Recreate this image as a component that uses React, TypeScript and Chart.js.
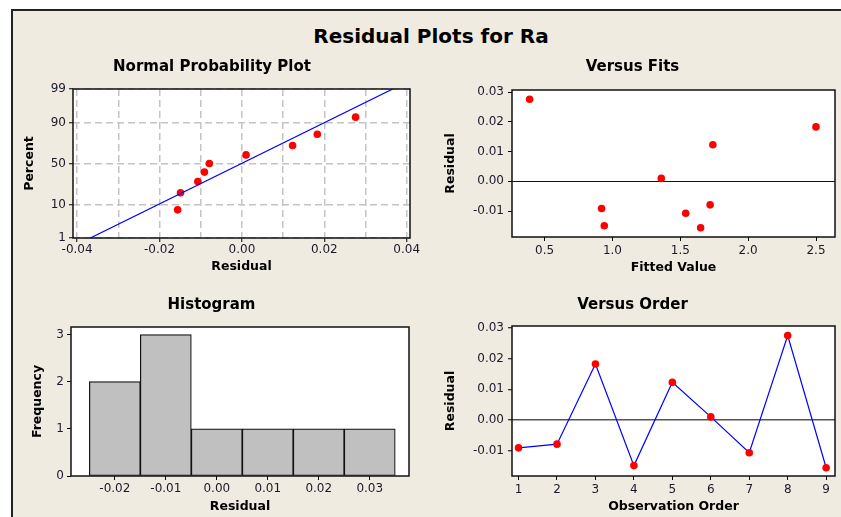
import React, { useEffect, useRef } from 'react';
import { Chart, registerables } from 'chart.js';

Chart.register(...registerables);

// ---------------- data ----------------
const observationOrder = [1, 2, 3, 4, 5, 6, 7, 8, 9];
const residuals = [-0.0091, -0.0079, 0.0183, -0.0149, 0.0123, 0.001, -0.0107, 0.0276, -0.0156];
const fittedValues = [0.92, 1.72, 2.5, 0.94, 1.74, 1.36, 1.54, 0.39, 1.65];

const sortedResiduals = [-0.0156, -0.0149, -0.0107, -0.0091, -0.0079, 0.001, 0.0123, 0.0183, 0.0276];
const normalPercents = [7.4, 18.1, 28.7, 39.4, 50.0, 60.6, 71.3, 81.9, 92.6];
const fitLineResidual = [-0.0368, 0.0366];
const fitLinePercent = [1, 99];

const histBinCenters = [-0.02, -0.01, 0.0, 0.01, 0.02, 0.03];
const histFrequency = [2, 3, 1, 1, 1, 1];

// tick values / labels
const nppPercentTicks = [1, 10, 50, 90, 99];
const nppResidualGrid = [-0.04, -0.03, -0.02, -0.01, 0, 0.01, 0.02, 0.03, 0.04];
const nppResidualLabels = ['-0.04', '', '-0.02', '', '0.00', '', '0.02', '', '0.04'];
const residualTicks = [-0.01, 0, 0.01, 0.02, 0.03];
const fittedTicks = [0.5, 1.0, 1.5, 2.0, 2.5];
const orderTicks = [1, 2, 3, 4, 5, 6, 7, 8, 9];
const histResidualTicks = [-0.02, -0.01, 0.0, 0.01, 0.02, 0.03];
const frequencyTicks = [0, 1, 2, 3];

// ---------------- helpers ----------------
const FONT = '"DejaVu Sans", Verdana, sans-serif';
const TICK_COLOR = '#1a1a2a';
const BEIGE = '#EFEBE1';
const MARKER_R = 3.8;

// inverse normal CDF (probability-scale transform)
function probit(p: number): number {
  const a = [-39.69683028665376, 220.9460984245205, -275.9285104469687, 138.357751867269, -30.66479806614716, 2.506628277459239];
  const b = [-54.47609879822406, 161.5858368580409, -155.6989798598866, 66.80131188771972, -13.28068155288572];
  const c = [-0.007784894002430293, -0.3223964580411365, -2.400758277161838, -2.549732539343734, 4.374664141464968, 2.938163982698783];
  const d = [0.007784695709041462, 0.3224671290700398, 2.445134137142996, 3.754408661907416];
  const plow = 0.02425;
  if (p < plow) {
    const q = Math.sqrt(-2 * Math.log(p));
    return (((((c[0] * q + c[1]) * q + c[2]) * q + c[3]) * q + c[4]) * q + c[5]) / ((((d[0] * q + d[1]) * q + d[2]) * q + d[3]) * q + 1);
  }
  if (p > 1 - plow) {
    const q = Math.sqrt(-2 * Math.log(1 - p));
    return -(((((c[0] * q + c[1]) * q + c[2]) * q + c[3]) * q + c[4]) * q + c[5]) / ((((d[0] * q + d[1]) * q + d[2]) * q + d[3]) * q + 1);
  }
  const q = p - 0.5;
  const r = q * q;
  return ((((((a[0] * r + a[1]) * r + a[2]) * r + a[3]) * r + a[4]) * r + a[5]) * q) / (((((b[0] * r + b[1]) * r + b[2]) * r + b[3]) * r + b[4]) * r + 1);
}
const z = (pct: number) => probit(pct / 100);

const plotFrame = {
  id: 'plotFrame',
  beforeDraw(chart: any) {
    const { ctx, chartArea: a } = chart;
    ctx.save();
    ctx.fillStyle = '#ffffff';
    ctx.fillRect(a.left, a.top, a.right - a.left, a.bottom - a.top);
    ctx.restore();
  },
  afterDraw(chart: any) {
    const { ctx, chartArea: a } = chart;
    ctx.save();
    ctx.strokeStyle = '#111111';
    ctx.lineWidth = 1.5;
    ctx.strokeRect(a.left, a.top, a.right - a.left, a.bottom - a.top);
    ctx.restore();
  },
};

interface AxisOpts {
  min: number;
  max: number;
  ticks: number[];
  label: (v: number, i: number) => string;
  size: number;
  title: string;
  titlePad: number;
  tickPad: number;
  gridColor?: any;
  gridWidth?: number;
  dash?: number[];
  onArea?: boolean;
  tickColor?: any;
}

function xAxis(o: AxisOpts): any {
  return {
    type: 'linear',
    position: 'bottom',
    min: o.min,
    max: o.max,
    offset: false,
    afterBuildTicks: (s: any) => {
      s.ticks = o.ticks.map((v) => ({ value: v }));
    },
    afterFit: (s: any) => {
      s.height = o.size;
      s.paddingLeft = 0;
      s.paddingRight = 0;
    },
    ticks: {
      autoSkip: false,
      maxRotation: 0,
      minRotation: 0,
      padding: o.tickPad,
      color: TICK_COLOR,
      font: { family: FONT, size: 12 },
      callback: (v: any, i: number) => o.label(v, i),
    },
    grid: {
      offset: false,
      drawOnChartArea: o.onArea ?? false,
      color: o.gridColor ?? 'rgba(0,0,0,0)',
      lineWidth: o.gridWidth ?? 1,
      drawTicks: true,
      tickLength: 4,
      tickWidth: 1,
      tickColor: o.tickColor ?? '#000',
    },
    border: { display: false, dash: o.dash ?? [] },
    title: {
      display: true,
      text: o.title,
      color: '#000',
      font: { family: FONT, size: 12.5, weight: 'bold' },
      padding: { top: 0, bottom: o.titlePad },
    },
  };
}

function yAxis(o: AxisOpts): any {
  return {
    type: 'linear',
    position: 'left',
    min: o.min,
    max: o.max,
    afterBuildTicks: (s: any) => {
      s.ticks = o.ticks.map((v) => ({ value: v }));
    },
    afterFit: (s: any) => {
      s.width = o.size;
      s.paddingTop = 0;
      s.paddingBottom = 0;
    },
    ticks: {
      autoSkip: false,
      padding: o.tickPad,
      color: TICK_COLOR,
      font: { family: FONT, size: 12 },
      callback: (v: any, i: number) => o.label(v, i),
    },
    grid: {
      drawOnChartArea: o.onArea ?? false,
      color: o.gridColor ?? 'rgba(0,0,0,0)',
      lineWidth: o.gridWidth ?? 1,
      drawTicks: true,
      tickLength: 4,
      tickWidth: 1,
      tickColor: o.tickColor ?? '#000',
    },
    border: { display: false, dash: o.dash ?? [] },
    title: {
      display: true,
      text: o.title,
      color: '#000',
      font: { family: FONT, size: 12.5, weight: 'bold' },
      padding: { top: o.titlePad, bottom: 0 },
    },
  };
}

function panelTitle(text: string, top: number, bottom: number): any {
  return {
    display: true,
    text,
    color: '#000',
    font: { family: FONT, size: 15, weight: 'bold', lineHeight: 1.2 },
    padding: { top, bottom },
  };
}

function baseOptions(title: any, padRight: number, scales: any): any {
  return {
    responsive: false,
    maintainAspectRatio: false,
    animation: false,
    events: [],
    layout: { padding: { left: 0, right: padRight, top: 0, bottom: 0 } },
    plugins: { legend: { display: false }, tooltip: { enabled: false }, title },
    scales,
  };
}

const GRID_GRAY = '#C4C4C4';
const zeroLine = (color: string) => (c: any) => (c.tick && Math.abs(c.tick.value) < 1e-12 ? color : 'rgba(0,0,0,0)');

// ---------------- chart configs ----------------
function nppConfig(): any {
  return {
    type: 'scatter',
    data: {
      datasets: [
        {
          data: fitLineResidual.map((x, i) => ({ x, y: z(fitLinePercent[i]) })),
          showLine: true,
          borderColor: '#0000FF',
          borderWidth: 1.2,
          pointRadius: 0,
        },
        {
          data: sortedResiduals.map((x, i) => ({ x, y: z(normalPercents[i]) })),
          pointRadius: MARKER_R,
          pointBackgroundColor: '#FF0000',
          pointBorderWidth: 0,
        },
      ],
    },
    options: baseOptions(panelTitle('Normal Probability Plot', 10, 13), 20, {
      x: xAxis({
        min: -0.041, max: 0.0408, ticks: nppResidualGrid,
        label: (_v, i) => nppResidualLabels[i] ?? '',
        size: 42, title: 'Residual', titlePad: 5.8, tickPad: 1,
        onArea: true, gridColor: GRID_GRAY, gridWidth: 1.5, dash: [7, 4],
        tickColor: (c: any) => (nppResidualLabels[c.index] ? '#000' : 'rgba(0,0,0,0)'),
      }),
      y: yAxis({
        min: z(1), max: z(99), ticks: nppPercentTicks.map(z),
        label: (_v, i) => String(nppPercentTicks[i]),
        size: 59, title: 'Percent', titlePad: 7.8, tickPad: 3,
        onArea: true, gridColor: GRID_GRAY, gridWidth: 1.5, dash: [7, 4],
      }),
    }),
    plugins: [plotFrame],
  };
}

function fitsConfig(): any {
  return {
    type: 'scatter',
    data: {
      datasets: [
        {
          data: fittedValues.map((x, i) => ({ x, y: residuals[i] })),
          pointRadius: MARKER_R,
          pointBackgroundColor: '#FF0000',
          pointBorderWidth: 0,
        },
      ],
    },
    options: baseOptions(panelTitle('Versus Fits', 10, 14), 6, {
      x: xAxis({
        min: 0.26, max: 2.64, ticks: fittedTicks,
        label: (v) => Number(v).toFixed(1),
        size: 43, title: 'Fitted Value', titlePad: 5.2, tickPad: 3,
      }),
      y: yAxis({
        min: -0.0187, max: 0.0307, ticks: residualTicks,
        label: (v) => Number(v).toFixed(2),
        size: 82, title: 'Residual', titlePad: 13.2, tickPad: 4,
        onArea: true, gridColor: zeroLine('#111'), gridWidth: 1,
      }),
    }),
    plugins: [plotFrame],
  };
}

function histConfig(): any {
  return {
    type: 'bar',
    data: {
      datasets: [
        {
          data: histBinCenters.map((x, i) => ({ x, y: histFrequency[i] })),
          backgroundColor: '#C0C0C0',
          borderColor: '#111111',
          borderWidth: 1.2,
          borderSkipped: false,
          barPercentage: 1,
          categoryPercentage: 1,
        },
      ],
    },
    options: baseOptions(panelTitle('Histogram', 14.3, 12.7), 21, {
      x: xAxis({
        min: -0.0286, max: 0.0377, ticks: histResidualTicks,
        label: (v) => Number(v).toFixed(2),
        size: 41, title: 'Residual', titlePad: 2.8, tickPad: 2,
      }),
      y: yAxis({
        min: 0, max: 3.16, ticks: frequencyTicks,
        label: (v) => String(v),
        size: 57, title: 'Frequency', titlePad: 15.8, tickPad: 3,
      }),
    }),
    plugins: [plotFrame],
  };
}

function orderConfig(): any {
  return {
    type: 'scatter',
    data: {
      datasets: [
        {
          data: observationOrder.map((x, i) => ({ x, y: residuals[i] })),
          showLine: true,
          borderColor: '#0000FF',
          borderWidth: 1.2,
          pointRadius: MARKER_R,
          pointBackgroundColor: '#FF0000',
          pointBorderWidth: 0,
        },
      ],
    },
    options: baseOptions(panelTitle('Versus Order', 14, 12), 6, {
      x: xAxis({
        min: 0.83, max: 9.23, ticks: orderTicks,
        label: (v) => String(v),
        size: 41, title: 'Observation Order', titlePad: 2.8, tickPad: 3,
      }),
      y: yAxis({
        min: -0.0183, max: 0.0307, ticks: residualTicks,
        label: (v) => Number(v).toFixed(2),
        size: 82, title: 'Residual', titlePad: 13.2, tickPad: 4,
        onArea: true, gridColor: zeroLine('#555'), gridWidth: 1.5,
      }),
    }),
    plugins: [plotFrame],
  };
}

// ---------------- components ----------------
function Panel(props: { build: () => any; left: number; top: number; width: number; height: number }) {
  const ref = useRef<HTMLCanvasElement | null>(null);
  useEffect(() => {
    if (!ref.current) return;
    const chart = new Chart(ref.current, props.build());
    return () => chart.destroy();
  }, []);
  return (
    <canvas
      ref={ref}
      width={props.width}
      height={props.height}
      style={{ position: 'absolute', left: props.left, top: props.top, width: props.width, height: props.height }}
    />
  );
}

export default function App() {
  return (
    <div style={{ position: 'absolute', left: 0, top: 0, width: 841, height: 517, overflow: 'hidden', background: '#ffffff' }}>
      <div
        style={{
          position: 'absolute', left: 11, top: 9, width: 830, height: 508,
          background: BEIGE, borderLeft: '2px solid #222', borderTop: '2px solid #222', boxSizing: 'border-box',
        }}
      />
      <div
        style={{
          position: 'absolute', left: 12, top: 24, width: 838, height: 24, lineHeight: '24px',
          textAlign: 'center', fontFamily: FONT, fontWeight: 'bold', fontSize: 20, color: '#000',
        }}
      >
        Residual Plots for Ra
      </div>
      <Panel build={nppConfig} left={14} top={48} width={416} height={232} />
      <Panel build={fitsConfig} left={430} top={48} width={411} height={232} />
      <Panel build={histConfig} left={14} top={282} width={416} height={235} />
      <Panel build={orderConfig} left={430} top={282} width={411} height={235} />
    </div>
  );
}
